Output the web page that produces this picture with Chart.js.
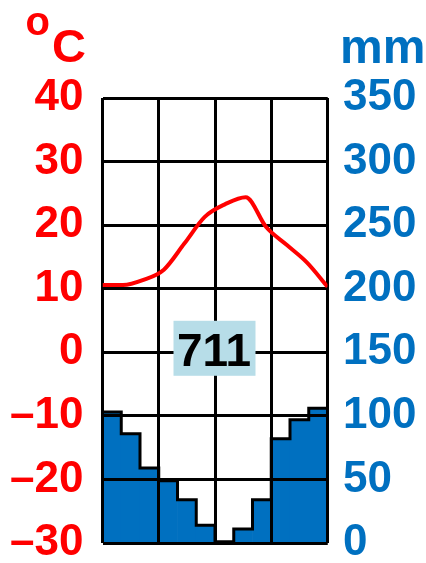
<!DOCTYPE html>
<html>
<head>
<meta charset="utf-8">
<script src="https://cdn.jsdelivr.net/npm/chart.js@4/dist/chart.umd.min.js"></script>
<style>
html,body{margin:0;padding:0;background:#ffffff;}
#wrap{position:relative;width:426px;height:563px;}
</style>
</head>
<body>
<div id="wrap"><canvas id="c"></canvas></div>
<script>
// ---- data ----
const months = ['Jan','Feb','Mar','Apr','May','Jun','Jul','Aug','Sep','Oct','Nov','Dec'];
const temperatureC = [10.6, 10.6, 11.4, 13.0, 17.1, 21.3, 23.3, 24.4, 19.7, 16.9, 14.1, 10.3];
const precipitationMm = [103, 86, 59, 49, 34, 14, 1, 11, 34, 82, 97, 106];
const temperatureTicks = [-30, -20, -10, 0, 10, 20, 30, 40];
const precipitationTicks = [0, 50, 100, 150, 200, 250, 300, 350];
const monthGridTicks = [0, 3, 6, 9, 12];
const annualPrecipitationLabel = '711';
const temperatureUnit = ['o', 'C'];
const precipitationUnit = 'mm';

const RED = '#FF0000';
const BLUE = '#0070C0';
const FONT = "'Liberation Sans', Arial, Helvetica, sans-serif";
Chart.defaults.font.family = FONT;

const n = months.length;
// bars centred in each month slot of a 0..12 month axis
const precipBars = precipitationMm.map((v, i) => ({x: i + 0.5, y: v}));
// stepped outline along the bar tops
const stepOutline = precipitationMm.map((v, i) => ({x: i, y: v}))
  .concat([{x: n, y: precipitationMm[n - 1]}]);
// temperature points spread from the left edge to the right edge
const tempPoints = temperatureC.map((t, i) => ({x: i * n / (n - 1), y: t}));

const overlay = {
  id: 'overlay',
  afterDatasetDraw(chart, args) {
    if (args.meta.type === 'bar') {
      const ca = chart.chartArea;
      chart.scales.x.drawGrid(ca);
      chart.scales.y.drawGrid(ca);
    }
  },
  afterDatasetsDraw(chart) {
    const ctx = chart.ctx, ca = chart.chartArea;
    const xc = (ca.left + ca.right) / 2;
    const y0 = chart.scales.y.getPixelForValue(0);
    ctx.save();
    ctx.fillStyle = '#B7DDE8';
    ctx.fillRect(xc - 41.5, y0 - 31.5, 82, 55);
    ctx.fillStyle = '#000000';
    ctx.font = 'bold 46px ' + FONT;
    ctx.textAlign = 'center';
    ctx.textBaseline = 'alphabetic';
    ctx.fillText(annualPrecipitationLabel, xc - 1, y0 + 13.7);
    ctx.restore();
  },
  afterDraw(chart) {
    const ctx = chart.ctx;
    ctx.save();
    ctx.textAlign = 'left';
    ctx.textBaseline = 'alphabetic';
    ctx.fillStyle = RED;
    ctx.font = 'bold 40px ' + FONT;
    ctx.fillText(temperatureUnit[0], 25.4, 34.5);
    ctx.font = 'bold 47px ' + FONT;
    ctx.fillText(temperatureUnit[1], 52, 61.5);
    ctx.fillStyle = BLUE;
    ctx.font = 'bold 48px ' + FONT;
    ctx.fillText(precipitationUnit, 340, 63);
    ctx.restore();
  }
};

const noPad = s => { s.paddingTop = 0; s.paddingBottom = 0; s.paddingLeft = 0; s.paddingRight = 0; };

new Chart(document.getElementById('c'), {
  type: 'line',
  data: {
    datasets: [
      {
        type: 'line',
        label: 'Temperature',
        data: tempPoints,
        yAxisID: 'y',
        borderColor: RED,
        borderWidth: 4,
        pointRadius: 0,
        cubicInterpolationMode: 'monotone',
        fill: false,
        order: 1
      },
      {
        type: 'line',
        label: 'Precipitation outline',
        data: stepOutline,
        yAxisID: 'y2',
        borderColor: '#000000',
        borderWidth: 3,
        pointRadius: 0,
        stepped: 'before',
        fill: false,
        order: 2
      },
      {
        type: 'bar',
        label: 'Precipitation',
        data: precipBars,
        yAxisID: 'y2',
        backgroundColor: BLUE,
        borderWidth: 0,
        barPercentage: 1,
        categoryPercentage: 1,
        order: 3
      }
    ]
  },
  options: {
    responsive: true,
    maintainAspectRatio: false,
    animation: false,
    layout: {padding: {top: 98, bottom: 20, left: 0, right: 0}},
    plugins: {legend: {display: false}, tooltip: {enabled: false}},
    scales: {
      x: {
        type: 'linear',
        position: 'bottom',
        min: 0,
        max: n,
        offset: false,
        afterBuildTicks: s => { s.ticks = monthGridTicks.map(v => ({value: v})); },
        afterFit: s => { s.height = 0; noPad(s); },
        ticks: {display: false},
        grid: {color: '#000000', lineWidth: 3, drawTicks: false, offset: false},
        border: {display: false}
      },
      y: {
        type: 'linear',
        position: 'left',
        min: -30,
        max: 40,
        afterBuildTicks: s => { s.ticks = temperatureTicks.map(v => ({value: v})); },
        afterFit: s => { s.width = 102.5; noPad(s); },
        ticks: {
          autoSkip: false,
          color: RED,
          padding: 19,
          font: {size: 44, weight: 'bold', family: FONT},
          callback: v => (v < 0 ? '\u2013' + Math.abs(v) : String(v))
        },
        grid: {color: '#000000', lineWidth: 3, drawTicks: false},
        border: {display: false}
      },
      y2: {
        type: 'linear',
        position: 'right',
        min: 0,
        max: 350,
        afterBuildTicks: s => { s.ticks = precipitationTicks.map(v => ({value: v})); },
        afterFit: s => { s.width = 98.5; noPad(s); },
        ticks: {
          autoSkip: false,
          color: BLUE,
          padding: 15.5,
          font: {size: 44, weight: 'bold', family: FONT}
        },
        grid: {display: false, drawTicks: false},
        border: {display: false}
      }
    }
  },
  plugins: [overlay]
});
</script>
</body>
</html>
